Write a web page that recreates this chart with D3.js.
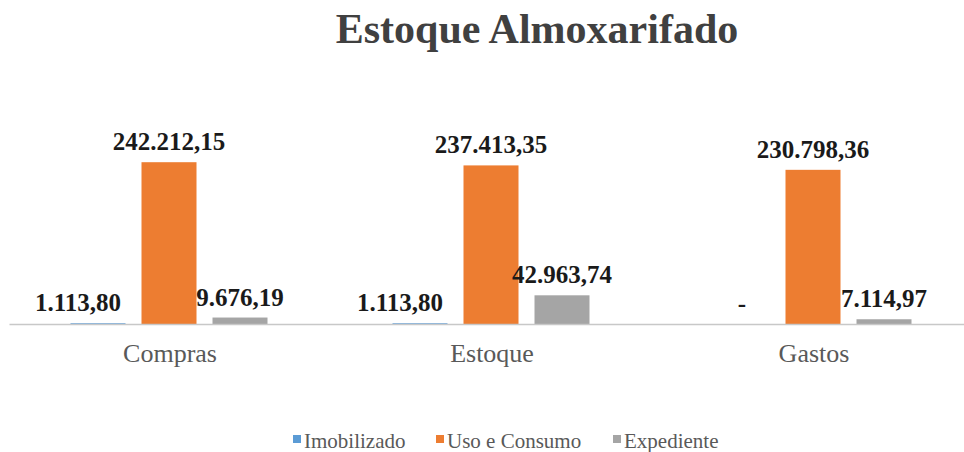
<!DOCTYPE html>
<html>
<head>
<meta charset="utf-8">
<script src="https://cdn.jsdelivr.net/npm/d3@7"></script>
<style>
  body { margin: 0; background: #fff; }
  svg { display: block; }
</style>
</head>
<body>
<svg id="grafico" width="964" height="452"></svg>
<script>

var categorias = ["Compras", "Estoque", "Gastos"];
var series = ["Imobilizado", "Uso e Consumo", "Expediente"];
var imobilizado = [1113.80, 1113.80, 0];
var usoConsumo = [242212.15, 237413.35, 230798.36];
var expediente = [9676.19, 42963.74, 7114.97];
var cores = ["#5B9BD5", "#ED7D31", "#A5A5A5"];

var valores = [imobilizado, usoConsumo, expediente];

var svg = d3.select("#grafico");
var base = 324;
var fonte = "Liberation Serif";

var ptBR = d3.formatLocale({ decimal: ",", thousands: ".", grouping: [3], currency: ["R$ ", ""] });
var formata = ptBR.format(",.2f");

var x0 = d3.scaleBand().domain(categorias).range([9, 975]).padding(0);
var x1 = d3.scaleBand().domain(series).range([61.5, 258.5]).paddingInner(16 / 71).paddingOuter(0);
var y = d3.scaleLinear().domain([0, 250000]).range([base, base - 167]);
var cor = d3.scaleOrdinal().domain(series).range(cores);

// titulo
svg.append("text")
    .attr("x", 537)
    .attr("y", 43)
    .attr("text-anchor", "middle")
    .style("font-family", fonte)
    .style("font-size", "42px")
    .style("font-weight", "bold")
    .attr("fill", "#404040")
    .text("Estoque Almoxarifado");

// monta os dados por barra
var barras = [];
for (var i = 0; i < categorias.length; i++) {
    for (var s = 0; s < series.length; s++) {
        barras.push({ cat: categorias[i], serie: series[s], valor: valores[s][i] });
    }
}

svg.append("g").selectAll("rect")
    .data(barras)
    .enter().append("rect")
    .attr("x", function (d) { return x0(d.cat) + x1(d.serie); })
    .attr("y", function (d) { return y(d.valor); })
    .attr("width", x1.bandwidth())
    .attr("height", function (d) { return base - y(d.valor); })
    .attr("fill", function (d) { return cor(d.serie); });

// eixo
var eixo = svg.append("g")
    .attr("transform", "translate(0," + base + ")")
    .call(d3.axisBottom(x0).tickSize(0).tickPadding(20));
eixo.select(".domain").attr("stroke", "#C8C8C8").attr("stroke-width", 1.5);
eixo.selectAll("text")
    .style("font-family", fonte)
    .style("font-size", "26px")
    .attr("fill", "#595959");

// rotulos de valor
svg.append("g").selectAll("text")
    .data(barras)
    .enter().append("text")
    .attr("x", function (d) {
        var cx = x0(d.cat) + x1(d.serie) + x1.bandwidth() / 2;
        if (d.serie == "Imobilizado" && d.valor > 0) cx = cx - 20;
        return cx;
    })
    .attr("y", function (d) { return d.valor > 0 ? y(d.valor) - 12 : base - 12; })
    .attr("text-anchor", "middle")
    .style("font-family", fonte)
    .style("font-size", "25px")
    .style("font-weight", "bold")
    .attr("fill", "#1a1a1a")
    .text(function (d) { return d.valor > 0 ? formata(d.valor) : "-"; });

// legenda
var legX = [293, 436, 613];
var leg = svg.append("g").selectAll("g")
    .data(series)
    .enter().append("g")
    .attr("transform", function (d, i) { return "translate(" + legX[i] + ",435)"; });
leg.append("rect")
    .attr("width", 8)
    .attr("height", 8)
    .attr("fill", function (d) { return cor(d); });
leg.append("text")
    .attr("x", 11)
    .attr("y", 13)
    .style("font-family", fonte)
    .style("font-size", "21px")
    .attr("fill", "#595959")
    .text(function (d) { return d; });

</script>
</body>
</html>
